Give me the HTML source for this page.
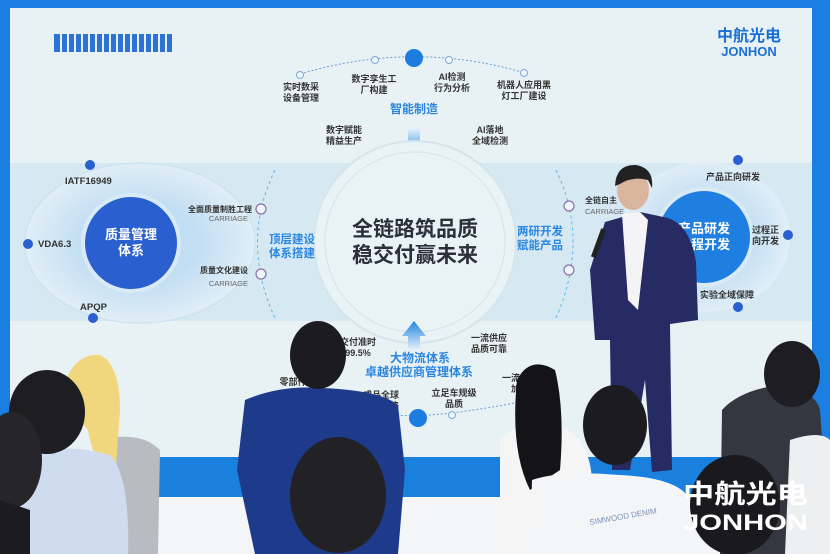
<!DOCTYPE html>
<html><head><meta charset="utf-8">
<style>
html,body{margin:0;padding:0;width:830px;height:554px;overflow:hidden;background:#fff}
svg{display:block}
text{font-family:"Liberation Sans","Noto Sans CJK SC",sans-serif}
</style></head><body>
<svg width="830" height="554" viewBox="0 0 830 554" xmlns="http://www.w3.org/2000/svg">
<defs>
<linearGradient id="arrD" x1="0" y1="0" x2="0" y2="1"><stop offset="0" stop-color="#e6f2fb"/><stop offset="1" stop-color="#1f86e0"/></linearGradient>
<linearGradient id="arrU" x1="0" y1="1" x2="0" y2="0"><stop offset="0" stop-color="#e6f2fb"/><stop offset="1" stop-color="#1f86e0"/></linearGradient>
<radialGradient id="lring" cx="0.5" cy="0.5" r="0.5"><stop offset="0.5" stop-color="#c2def3"/><stop offset="1" stop-color="#e0eef7"/></radialGradient>
</defs>
<rect x="0" y="0" width="830" height="554" fill="#1a7fe0"/>
<rect x="10" y="8" width="802" height="449" fill="#e8f1f3"/>
<rect x="10" y="163" width="802" height="158" fill="#d6e9f3"/>
<ellipse cx="140" cy="243" rx="115" ry="80" fill="url(#lring)" stroke="#c8e0f0"/>
<ellipse cx="705" cy="237" rx="85" ry="75" fill="url(#lring)"/>
<rect x="0" y="457" width="830" height="40" fill="#1a80de"/>
<rect x="0" y="497" width="830" height="57" fill="#f3f5f7"/>
<rect x="54" y="34" width="118" height="18" fill="#2d73d6"/>
<g fill="#e8f1f3">
<rect x="60" y="34" width="2" height="18"/><rect x="67" y="34" width="2" height="18"/><rect x="74" y="34" width="2" height="18"/><rect x="81" y="34" width="2" height="18"/><rect x="88" y="34" width="2" height="18"/><rect x="95" y="34" width="2" height="18"/><rect x="102" y="34" width="2" height="18"/><rect x="109" y="34" width="2" height="18"/><rect x="116" y="34" width="2" height="18"/><rect x="123" y="34" width="2" height="18"/><rect x="130" y="34" width="2" height="18"/><rect x="137" y="34" width="2" height="18"/><rect x="144" y="34" width="2" height="18"/><rect x="151" y="34" width="2" height="18"/><rect x="158" y="34" width="2" height="18"/><rect x="165" y="34" width="2" height="18"/>
</g>
<text x="749" y="41" font-size="16" font-weight="bold" fill="#1a6fd6" text-anchor="middle">中航光电</text>
<text x="749" y="56" font-size="13" font-weight="bold" fill="#1a6fd6" text-anchor="middle">JONHON</text>
<path d="M300 74 Q414 40 525 73" fill="none" stroke="#6a9fd8" stroke-dasharray="2,2"/>
<circle cx="414" cy="58" r="9" fill="#1c7ce0"/>
<g fill="#eef6fa" stroke="#7fa8d8"><circle cx="375" cy="60" r="3.5"/><circle cx="449" cy="60" r="3.5"/><circle cx="300" cy="75" r="3.5"/><circle cx="524" cy="73" r="3.5"/></g>
<g font-size="9" fill="#333" text-anchor="middle" font-weight="bold">
<text x="301" y="90">实时数采</text><text x="301" y="101">设备管理</text>
<text x="374" y="82">数字孪生工</text><text x="374" y="93">厂构建</text>
<text x="452" y="80">AI检测</text><text x="452" y="91">行为分析</text>
<text x="524" y="88">机器人应用黑</text><text x="524" y="99">灯工厂建设</text>
<text x="344" y="133">数字赋能</text><text x="344" y="144">精益生产</text>
<text x="490" y="133">AI落地</text><text x="490" y="144">全域检测</text>
</g>
<text x="414" y="113" font-size="12" font-weight="bold" fill="#2a86e0" text-anchor="middle">智能制造</text>
<path d="M408 128 h12 v16 h6 l-12 13 l-12 -13 h6z" fill="url(#arrD)"/>
<circle cx="415" cy="242" r="101" fill="#e9f2f5" stroke="#d6e4ec" stroke-width="2"/>
<circle cx="415" cy="242" r="90" fill="none" stroke="#d6e2ea"/>
<text x="415" y="236" font-size="21" font-weight="bold" fill="#2b2f3a" text-anchor="middle">全链路筑品质</text>
<text x="415" y="262" font-size="21" font-weight="bold" fill="#2b2f3a" text-anchor="middle">稳交付赢未来</text>
<path d="M275 170 Q240 242 275 318" fill="none" stroke="#5cb8e6" stroke-dasharray="3,3"/>
<path d="M556 170 Q590 240 556 318" fill="none" stroke="#5cb8e6" stroke-dasharray="3,3"/>
<circle cx="131" cy="243" r="50" fill="#d8eaf5"/>
<circle cx="131" cy="243" r="46" fill="#2a5fcf"/>
<text x="131" y="239" font-size="13" font-weight="bold" fill="#fff" text-anchor="middle">质量管理</text>
<text x="131" y="255" font-size="13" font-weight="bold" fill="#fff" text-anchor="middle">体系</text>
<g fill="#2a5fcf"><circle cx="90" cy="165" r="5"/><circle cx="28" cy="244" r="5"/><circle cx="93" cy="318" r="5"/>
<circle cx="738" cy="160" r="5"/><circle cx="788" cy="235" r="5"/><circle cx="738" cy="307" r="5"/></g>
<g font-size="9.5" font-weight="bold" fill="#333">
<text x="65" y="184">IATF16949</text><text x="38" y="247">VDA6.3</text><text x="80" y="310">APQP</text>
</g>
<g font-size="8" font-weight="bold" fill="#333" text-anchor="end">
<text x="252" y="212">全面质量制胜工程</text><text x="248" y="273">质量文化建设</text></g>
<g font-size="7.5" fill="#666" text-anchor="end"><text x="248" y="221">CARRIAGE</text><text x="248" y="286">CARRIAGE</text></g>
<g fill="#eef6fa" stroke="#8a6fa8" stroke-width="1.2"><circle cx="261" cy="209" r="5"/><circle cx="261" cy="274" r="5"/><circle cx="569" cy="206" r="5"/><circle cx="569" cy="270" r="5"/></g>
<g font-size="11.5" font-weight="bold" fill="#2a86e0">
<text x="269" y="243">顶层建设</text><text x="269" y="257">体系搭建</text>
<text x="517" y="235">两研开发</text><text x="517" y="249">赋能产品</text></g>
<text x="585" y="203" font-size="8" font-weight="bold" fill="#333">全链自主</text>
<text x="585" y="214" font-size="7.5" fill="#666">CARRIAGE</text>
<circle cx="704" cy="237" r="50" fill="#d8eaf5"/>
<circle cx="704" cy="237" r="46" fill="#1f7fe0"/>
<text x="704" y="233" font-size="13" font-weight="bold" fill="#fff" text-anchor="middle">产品研发</text>
<text x="704" y="249" font-size="13" font-weight="bold" fill="#fff" text-anchor="middle">过程开发</text>
<g font-size="9" font-weight="bold" fill="#333">
<text x="706" y="180">产品正向研发</text><text x="752" y="233">过程正</text><text x="752" y="244">向开发</text><text x="700" y="298">实验全域保障</text></g>
<path d="M408 350 h12 v-14 h6 l-12 -15 l-12 15 h6z" fill="url(#arrU)"/>
<text x="420" y="362" font-size="12" font-weight="bold" fill="#2a86e0" text-anchor="middle">大物流体系</text>
<text x="419" y="376" font-size="12" font-weight="bold" fill="#2a86e0" text-anchor="middle">卓越供应商管理体系</text>
<g font-size="9" font-weight="bold" fill="#333" text-anchor="middle">
<text x="358" y="345">交付准时</text><text x="358" y="356">99.5%</text>
<text x="489" y="341">一流供应</text><text x="489" y="352">品质可靠</text>
<text x="293" y="385">零部件</text>
<text x="381" y="398">成品全球</text><text x="381" y="409">物流网络</text>
<text x="454" y="396">立足车规级</text><text x="454" y="407">品质</text>
<text x="520" y="381">一流模具</text><text x="520" y="392">加工</text></g>
<path d="M385 413 Q418 422 525 401" fill="none" stroke="#6a9fd8" stroke-dasharray="2,2"/>
<circle cx="418" cy="418" r="9" fill="#1c7ce0"/>
<g fill="#eef6fa" stroke="#7fa8d8"><circle cx="452" cy="415" r="3.5"/><circle cx="525" cy="401" r="3.5"/></g>
<!-- speaker -->
<path d="M605 222 L640 212 L668 218 Q690 225 696 262 L698 320 L670 324 L672 470 L652 472 L645 380 L630 470 L612 470 L610 340 L595 340 L590 270 Z" fill="#262b63"/>
<path d="M622 214 L640 212 L648 220 L638 310 L628 300 Z" fill="#f4f4f6"/>
<ellipse cx="633" cy="190" rx="16" ry="20" fill="#d9b59e"/>
<path d="M615 186 Q616 164 636 165 Q654 168 652 188 L648 180 Q632 176 620 184 Z" fill="#222"/>
<rect x="596" y="228" width="5" height="30" fill="#222" transform="rotate(20 598 243)"/>
<!-- audience -->
<path d="M722 410 Q740 390 780 385 Q815 390 820 410 L830 554 L720 554Z" fill="#34373f"/>
<ellipse cx="792" cy="374" rx="28" ry="33" fill="#1d1d22"/>
<path d="M500 440 Q520 420 560 425 Q590 440 592 480 L595 554 L500 554Z" fill="#f5f5f5"/>
<path d="M517 380 Q530 355 555 370 Q565 410 560 470 L530 490 Q510 450 517 380Z" fill="#141418"/>
<path d="M532 480 Q560 470 620 475 Q680 478 690 500 L700 554 L530 554Z" fill="#f4f5f7"/>
<ellipse cx="615" cy="425" rx="32" ry="40" fill="#1c1c20"/>
<text x="590" y="525" font-size="8" fill="#7c93b8" transform="rotate(-10 590 525)">SIMWOOD DENIM</text>
<ellipse cx="735" cy="505" rx="45" ry="50" fill="#1a1a1e"/>
<path d="M790 440 Q820 430 830 440 L830 554 L785 554Z" fill="#eeeff1"/>
<path d="M245 400 Q280 385 320 388 Q380 390 398 405 L405 470 L398 554 L255 554 L237 470Z" fill="#1e3a8a"/>
<ellipse cx="318" cy="355" rx="28" ry="34" fill="#1c1c20"/>
<ellipse cx="338" cy="495" rx="48" ry="58" fill="#222226"/>
<path d="M100 440 Q140 430 160 450 L158 554 L110 554Z" fill="#b8bcc2"/>
<path d="M60 400 Q70 352 100 355 Q120 365 120 410 L115 480 Q95 470 88 430 Z" fill="#f0d67c"/>
<path d="M20 460 Q60 440 110 455 Q130 475 128 554 L20 554Z" fill="#cfdbee"/>
<ellipse cx="47" cy="412" rx="38" ry="42" fill="#1e1e22"/>
<ellipse cx="12" cy="460" rx="30" ry="48" fill="#25252a"/>
<path d="M0 500 L30 510 L30 554 L0 554Z" fill="#1c1c20"/>
<!-- watermark -->
<text x="683" y="503" font-size="26" font-weight="bold" fill="#fff" textLength="125" lengthAdjust="spacingAndGlyphs">中航光电</text>
<text x="683" y="530" font-size="22" font-weight="bold" fill="#fff" textLength="125" lengthAdjust="spacingAndGlyphs">JONHON</text>
</svg>
</body></html>
